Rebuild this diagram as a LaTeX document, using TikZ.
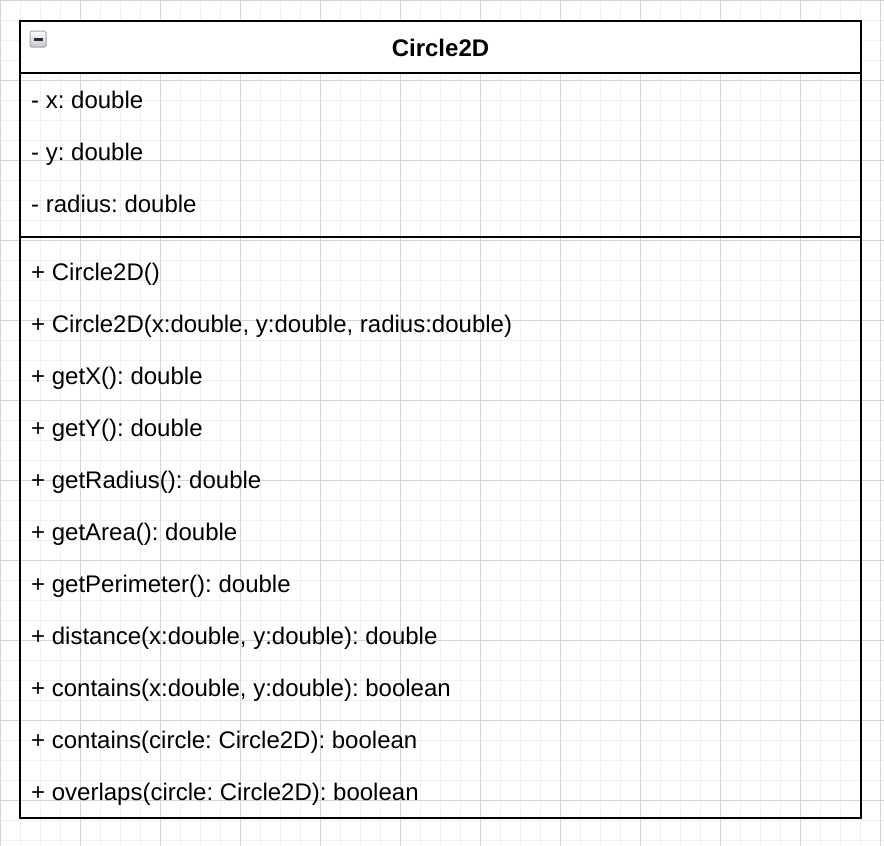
\documentclass[tikz,border=0pt]{standalone}
\usepackage{fontspec}
\setmainfont{Liberation Sans}
\frenchspacing
\definecolor{gridminor}{RGB}{240,240,240}
\definecolor{gridmajor}{RGB}{212,212,212}
\definecolor{iconfill}{RGB}{196,198,204}
\definecolor{iconedge}{RGB}{160,165,170}
\definecolor{iconbar}{RGB}{45,45,45}
\begin{document}
\begin{tikzpicture}[x=1pt,y=-1pt,
  minorgrid/.style={draw=gridminor,line width=1pt},
  majorgrid/.style={draw=gridmajor,line width=1pt},
  umlline/.style={draw=black,line width=2pt},
  member/.style={anchor=base west,inner sep=0pt,font=\fontsize{24}{28}\selectfont},
  titletext/.style={anchor=base,inner sep=0pt,font=\fontsize{24}{28}\selectfont\bfseries}]
\useasboundingbox (0,0) rectangle (884,846);
\fill[white] (0,0) rectangle (884,846);
% grid
\foreach \i in {0,20,...,880} \draw[minorgrid] (\i,0) -- (\i,846);
\foreach \j in {0,20,...,840} \draw[minorgrid] (0,\j) -- (884,\j);
\foreach \i in {0,80,...,880} \draw[majorgrid] (\i,0) -- (\i,846);
\foreach \j in {0,80,...,840} \draw[majorgrid] (0,\j) -- (884,\j);
% class box
\fill[white] (20,21) rectangle (861,73);
\draw[umlline] (20,21) rectangle (861,818);
\draw[umlline] (20,73) -- (861,73);
\draw[umlline] (20,237) -- (861,237);
% collapse icon
\shade[top color=white,bottom color=iconfill,draw=iconedge,line width=1pt,rounded corners=1.5pt] (30,31) rectangle (46,47);
\fill[iconbar] (33.5,38) rectangle (42.5,40.5);
% title
\node[titletext] (title) at (440.5,56) {Circle2D};
% attributes
\node[member] (a1) at (31,108) {- x: double};
\node[member] (a2) at (31,160) {- y: double};
\node[member] (a3) at (31,212) {- radius: double};
% methods
\node[member] (m1) at (31,280) {+ Circle2D()};
\node[member] (m2) at (31,332) {+ Circle2D(x:double, y:double, radius:double)};
\node[member] (m3) at (31,384) {+ getX(): double};
\node[member] (m4) at (31,436) {+ getY(): double};
\node[member] (m5) at (31,488) {+ getRadius(): double};
\node[member] (m6) at (31,540) {+ getArea(): double};
\node[member] (m7) at (31,592) {+ getPerimeter(): double};
\node[member] (m8) at (31,644) {+ distance(x:double, y:double): double};
\node[member] (m9) at (31,696) {+ contains(x:double, y:double): boolean};
\node[member] (m10) at (31,748) {+ contains(circle: Circle2D): boolean};
\node[member] (m11) at (31,800) {+ overlaps(circle: Circle2D): boolean};
\end{tikzpicture}
\end{document}
